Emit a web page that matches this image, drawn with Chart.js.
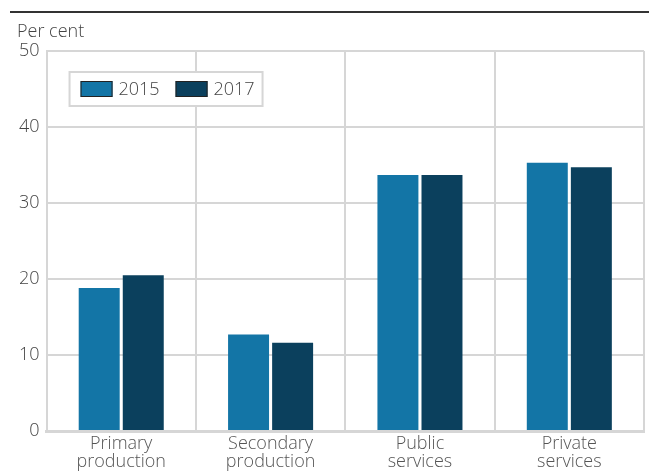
<!DOCTYPE html>
<html>
<head>
<meta charset="utf-8">
<script src="https://cdn.jsdelivr.net/npm/chart.js@4/dist/chart.umd.min.js"></script>
<style>
  html, body { margin: 0; padding: 0; background: #fff; }
  canvas { display: block; }
</style>
</head>
<body>
<canvas id="chart" width="649" height="475"></canvas>
<script>
// ================== DATA ==================
const categories = [["Primary", "production"], ["Secondary", "production"], ["Public", "services"], ["Private", "services"]];
const seriesLabels = ["2015", "2017"];
const values2015 = [18.8, 12.7, 33.7, 35.3];
const values2017 = [20.5, 11.6, 33.7, 34.7];
const yTicks = [0, 10, 20, 30, 40, 50];
const unitLabel = "Per cent";

const COLORS = ["#1375a6", "#0b405d"];
const GRID = "#d6d6d6";
const FONT = "'Open Sans', 'Noto Sans', sans-serif";

// ================== PLUGINS ==================
// top rule + unit label
const frame = {
  id: 'frame',
  afterDraw(c){
    const ctx = c.ctx;
    ctx.save();
    ctx.strokeStyle = '#333';
    ctx.lineWidth = 2;
    ctx.beginPath();
    ctx.moveTo(10, 12);
    ctx.lineTo(c.width, 12);
    ctx.stroke();
    ctx.fillStyle = '#444';
    ctx.font = '300 18px ' + FONT;
    ctx.textBaseline = 'alphabetic';
    ctx.fillText(unitLabel, 17, 37);
    ctx.restore();
  }
};

// boxed legend inside the plot
const boxLegend = {
  id: 'boxLegend',
  afterDraw(c){
    const ctx = c.ctx;
    const a = c.chartArea;
    const x0 = a.left + 23, y0 = a.top + 21;
    ctx.save();
    ctx.fillStyle = '#fff';
    ctx.fillRect(x0, y0, 193, 34);
    ctx.strokeStyle = GRID;
    ctx.lineWidth = 2;
    ctx.strokeRect(x0, y0, 193, 34);
    ctx.font = '300 18px ' + FONT;
    ctx.textBaseline = 'middle';
    let x = x0 + 11;
    c.data.datasets.forEach(ds => {
      ctx.fillStyle = ds.backgroundColor;
      ctx.fillRect(x, y0 + 9, 32, 16);
      ctx.strokeStyle = '#222';
      ctx.lineWidth = 1;
      ctx.strokeRect(x + 0.5, y0 + 9.5, 31, 15);
      ctx.fillStyle = '#444';
      ctx.fillText(ds.label, x + 38, y0 + 18);
      x += 95;
    });
    ctx.restore();
  }
};

// ================== CHART ==================
new Chart(document.getElementById('chart'), {
  type: 'bar',
  data: {
    labels: categories,
    datasets: [
      { label: seriesLabels[0], data: values2015, backgroundColor: COLORS[0] },
      { label: seriesLabels[1], data: values2017, backgroundColor: COLORS[1] }
    ]
  },
  options: {
    responsive: false,
    animation: false,
    layout: { padding: { left: 12, right: 5, top: 51, bottom: 0 } },
    plugins: { legend: { display: false }, tooltip: { enabled: false }, title: { display: false } },
    datasets: { bar: { categoryPercentage: 0.59, barPercentage: 0.93 } },
    scales: {
      x: {
        grid: { color: GRID, lineWidth: 2, offset: true, drawTicks: false },
        border: { color: GRID, width: 3 },
        ticks: { color: '#555', font: { family: FONT, size: 18, weight: 300, lineHeight: 1.0 }, padding: 4, maxRotation: 0 }
      },
      y: {
        min: 0, max: 50,
        afterBuildTicks: ax => { ax.ticks = yTicks.map(v => ({ value: v })); },
        grid: { color: GRID, lineWidth: 2, drawTicks: false },
        border: { color: GRID, width: 2 },
        ticks: { color: '#444', font: { family: FONT, size: 18, weight: 300 }, padding: 7 }
      }
    }
  },
  plugins: [frame, boxLegend]
});
</script>
</body>
</html>
